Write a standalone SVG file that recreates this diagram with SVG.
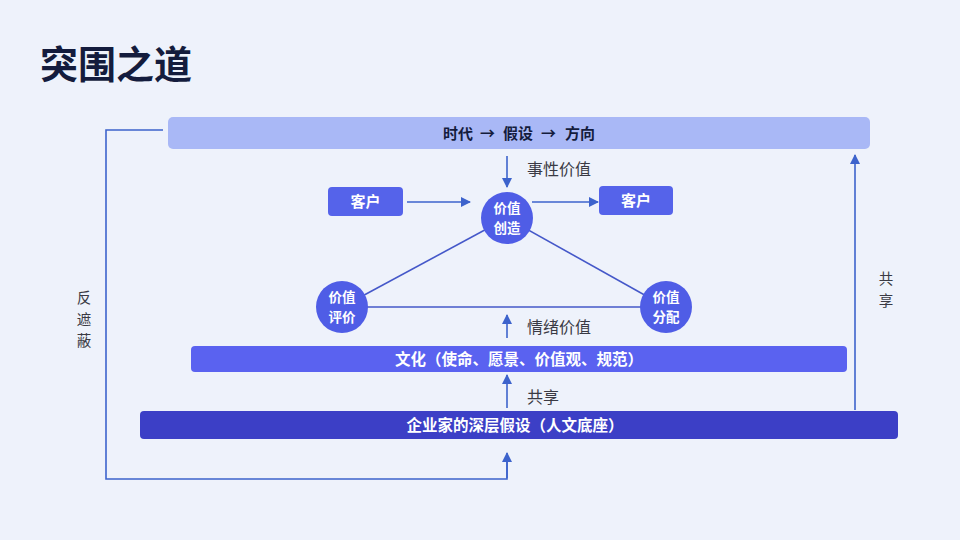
<svg xmlns="http://www.w3.org/2000/svg" width="960" height="540" viewBox="0 0 960 540">
<defs>
<marker id="ah" viewBox="0 0 10 10" refX="9" refY="5" markerWidth="10" markerHeight="10" markerUnits="userSpaceOnUse" orient="auto">
<path d="M0,0 L10,5 L0,10 z" fill="#3d63cc"/>
</marker>
<style>
.t{font-family:"Noto Sans CJK SC","Noto Sans",sans-serif}
.b{font-weight:700}
.w{fill:#ffffff}
.lab{font-size:16px;fill:#3a3a44}
.vl{font-size:14.5px;fill:#3a3a44}
.ln{stroke:#3d63cc;stroke-width:1.6;fill:none}
.ar{stroke:#3d63cc;stroke-width:1.6;fill:none;marker-end:url(#ah)}
.tri{stroke:#4558c9;stroke-width:1.6;fill:none}
.circ{fill:#4f5de6}
.box{fill:#5563ea}
.ct{font-size:13.5px}
</style>
</defs>
<rect width="960" height="540" fill="#eef2fb"/>
<text class="t b" x="40" y="78" font-size="38" fill="#141c3d">突围之道</text>

<g id="connectors">
<polyline class="ln" points="163,130 106,130 106,479 507,479 507,462"/>
<line class="ar" x1="507" y1="478" x2="507" y2="453"/>
<line class="ar" x1="855" y1="410" x2="855" y2="155"/>
<line class="ar" x1="507" y1="156" x2="507" y2="187"/>
<line class="ar" x1="407" y1="202" x2="470" y2="202"/>
<line class="ar" x1="532" y1="202" x2="598" y2="202"/>
<line class="tri" x1="507" y1="218" x2="342" y2="307"/>
<line class="tri" x1="507" y1="218" x2="666" y2="307"/>
<line class="tri" x1="342" y1="307" x2="666" y2="307"/>
<line class="ar" x1="507" y1="338" x2="507" y2="315"/>
<line class="ar" x1="507" y1="408" x2="507" y2="375"/>
</g>

<g id="labels">
<text class="t lab" x="527" y="175">事性价值</text>
<text class="t lab" x="527" y="333">情绪价值</text>
<text class="t lab" x="527" y="403">共享</text>
<text class="t vl" text-anchor="middle"><tspan x="84" y="303">反</tspan><tspan x="84" y="324.5">遮</tspan><tspan x="84" y="346">蔽</tspan></text>
<text class="t vl" text-anchor="middle"><tspan x="886" y="284">共</tspan><tspan x="886" y="305.5">享</tspan></text>
</g>

<g id="top-bar">
<rect x="168" y="117" width="702" height="32" rx="5" fill="#a9b8f6"/>
<text class="t b" y="139" font-size="15" fill="#141c3d"><tspan x="443">时代</tspan><tspan x="480">→</tspan><tspan x="503">假设</tspan><tspan x="541">→</tspan><tspan x="565">方向</tspan></text>
</g>

<g id="client-left">
<rect class="box" x="328" y="187" width="75" height="29" rx="4"/>
<text class="t b w" x="365.5" y="207" font-size="15" text-anchor="middle">客户</text>
</g>
<g id="client-right">
<rect class="box" x="599" y="186" width="74" height="29" rx="4"/>
<text class="t b w" x="636" y="206" font-size="15" text-anchor="middle">客户</text>
</g>

<g id="value-create">
<circle class="circ" cx="507" cy="218" r="26"/>
<text class="t b w ct" text-anchor="middle"><tspan x="507" y="213">价值</tspan><tspan x="507" y="232.5">创造</tspan></text>
</g>
<g id="value-eval">
<circle class="circ" cx="342" cy="307" r="26"/>
<text class="t b w ct" text-anchor="middle"><tspan x="342" y="302">价值</tspan><tspan x="342" y="321.5">评价</tspan></text>
</g>
<g id="value-dist">
<circle class="circ" cx="666" cy="307" r="26"/>
<text class="t b w ct" text-anchor="middle"><tspan x="666" y="302">价值</tspan><tspan x="666" y="321.5">分配</tspan></text>
</g>

<g id="culture-bar">
<rect x="191" y="346" width="656" height="26" rx="4" fill="#5a62f0"/>
<text class="t b w" x="519" y="364.5" font-size="15.5" text-anchor="middle">文化（使命、愿景、价值观、规范）</text>
</g>
<g id="base-bar">
<rect x="140" y="411" width="758" height="28" rx="4" fill="#3c3fc6"/>
<text class="t b w" x="515" y="430.5" font-size="15.5" text-anchor="middle">企业家的深层假设（人文底座）</text>
</g>
</svg>
